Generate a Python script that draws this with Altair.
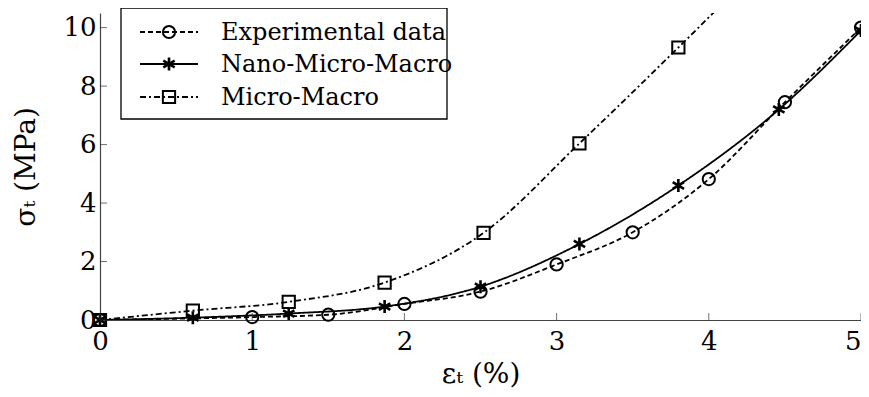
import altair as alt
import pandas as pd

# ---- data ----
exp_x = [0, 1, 1.5, 2, 2.5, 3, 3.5, 4, 4.5, 5]
exp_y = [0, 0.1, 0.18, 0.55, 0.97, 1.9, 3.0, 4.82, 7.45, 10.0]

nmm_x = [0, 0.61, 1.24, 1.87, 2.5, 3.15, 3.8, 4.46, 5]
nmm_y = [0, 0.08, 0.22, 0.46, 1.14, 2.6, 4.6, 7.2, 9.9]

mm_x = [0, 0.61, 1.24, 1.87, 2.52, 3.15, 3.8, 4.45]
mm_y = [0, 0.32, 0.62, 1.28, 2.98, 6.04, 9.32, 12.7]

names = ["Experimental data", "Nano-Micro-Macro", "Micro-Macro"]
x_ticks = [0, 1, 2, 3, 4, 5]
y_ticks = [0, 2, 4, 6, 8, 10]

W, H = 761, 307
FONT = "DejaVu Serif"
STAR = "M0,-1L0,1M-0.87,-0.5L0.87,0.5M-0.87,0.5L0.87,-0.5"

styles = {
    "Experimental data": dict(dash=[5, 3], shape="circle", size=150, sw=2),
    "Nano-Micro-Macro": dict(dash=[1, 0], shape=STAR, size=170, sw=2.6),
    "Micro-Macro": dict(dash=[6, 3, 2, 3], shape="square", size=150, sw=2),
}

series = {
    "Experimental data": (exp_x, exp_y),
    "Nano-Micro-Macro": (nmm_x, nmm_y),
    "Micro-Macro": (mm_x, mm_y),
}

xs = alt.Scale(domain=[0, 5], nice=False, zero=False)
ys = alt.Scale(domain=[0, 10.5], nice=False, zero=False)

layers = []
first = True
for name in names:
    sx, sy = series[name]
    df = pd.DataFrame({"x": sx, "y": sy})
    st = styles[name]
    if first:
        xenc = alt.X("x:Q", scale=xs, axis=alt.Axis(
            values=x_ticks, ticks=False, grid=False, title="εₜ (%)", format="d",
            labelFlush=False, labelPadding=8, titlePadding=6,
            labelAlign={"expr": "datum.value == 5 ? 'right' : 'center'"}))
        yenc = alt.Y("y:Q", scale=ys, axis=alt.Axis(
            values=y_ticks, ticks=False, grid=False, title="σₜ (MPa)", format="d",
            labelFlush=False, labelPadding=4, titlePadding=22))
        first = False
    else:
        xenc = alt.X("x:Q", scale=xs)
        yenc = alt.Y("y:Q", scale=ys)
    line = alt.Chart(df).mark_line(
        color="black", strokeWidth=1.8, strokeDash=st["dash"],
        interpolate="monotone", clip=True).encode(x=xenc, y=yenc)
    pts = alt.Chart(df).mark_point(
        shape=st["shape"], size=st["size"], filled=False, color="black",
        strokeWidth=st["sw"], opacity=1, clip=False).encode(
        x=alt.X("x:Q", scale=xs), y=alt.Y("y:Q", scale=ys))
    if name == "Micro-Macro":
        pts = pts.transform_filter(alt.datum.y <= 10.5)
    layers += [line, pts]

# inward axis ticks
xt = pd.DataFrame({"x": x_ticks})
yt = pd.DataFrame({"y": y_ticks})
layers.append(alt.Chart(xt).mark_tick(orient="vertical", size=7, thickness=1, color="#333")
              .encode(x=alt.X("x:Q", scale=xs), y=alt.value(H - 3.5)))
layers.append(alt.Chart(yt).mark_tick(orient="horizontal", size=7, thickness=1, color="#333")
              .encode(y=alt.Y("y:Q", scale=ys), x=alt.value(3.5)))

# legend box
box = pd.DataFrame({"a": [0]})
layers.append(alt.Chart(box).mark_rect(fill="white", stroke="black", strokeWidth=1.3)
              .encode(x=alt.value(21), x2=alt.value(347), y=alt.value(-5), y2=alt.value(106)))
rows_y = [19, 51, 84]
for name, ry in zip(names, rows_y):
    st = styles[name]
    layers.append(alt.Chart(box).mark_rule(color="black", strokeWidth=1.8, strokeDash=st["dash"])
                  .encode(x=alt.value(40), x2=alt.value(98), y=alt.value(ry)))
    layers.append(alt.Chart(box).mark_point(shape=st["shape"], size=st["size"], filled=False,
                                            color="black", strokeWidth=st["sw"], opacity=1)
                  .encode(x=alt.value(69), y=alt.value(ry)))
    layers.append(alt.Chart(box).mark_text(text=name, align="left", baseline="middle",
                                           font=FONT, fontSize=24, color="black")
                  .encode(x=alt.value(121), y=alt.value(ry + 1)))

chart = alt.layer(*layers).properties(
    width=W, height=H,
    autosize=alt.AutoSizeParams(type="none"),
    padding={"left": 92, "top": 5, "right": 0, "bottom": 69},
).configure_view(stroke=None).configure_axis(
    domainColor="#444", domainWidth=1.2,
    labelFont=FONT, labelFontSize=26, labelColor="black",
    titleFont=FONT, titleFontSize=28, titleColor="black", titleFontWeight="normal",
)

chart.save("out.html", embed_options={"renderer": "svg", "actions": False})
